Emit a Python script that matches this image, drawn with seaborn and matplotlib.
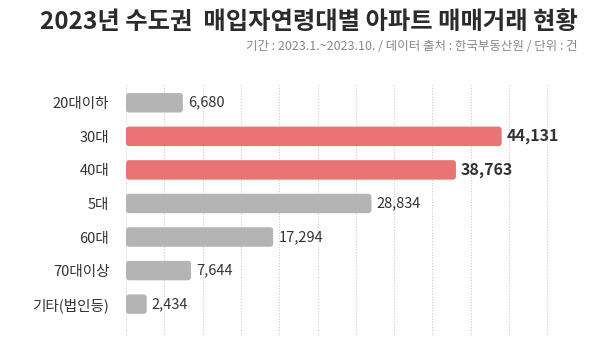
import pandas as pd
import seaborn as sns
import matplotlib.pyplot as plt
from matplotlib.ticker import MultipleLocator
from matplotlib.patches import FancyBboxPatch

# data
ages = ['20대이하', '30대', '40대', '5대', '60대', '70대이상', '기타(법인등)']
counts = [6680, 44131, 38763, 28834, 17294, 7644, 2434]
highlight = ['no', 'yes', 'yes', 'no', 'no', 'no', 'no']

df = pd.DataFrame({'age': ages, 'count': counts, 'hl': highlight})

sns.set_theme(style="white")
plt.rcParams['font.family'] = ['Noto Sans CJK KR', 'DejaVu Sans']

fig = plt.figure(figsize=(5.94, 3.58), dpi=100)
ax = fig.add_axes([126 / 594, 22 / 358, 434 / 594, 251 / 358])

palette = {'yes': '#E87474', 'no': '#B4B4B4'}
sns.barplot(data=df, x='count', y='age', hue='hl', palette=palette, saturation=1,
            dodge=False, width=0.58, legend=False, ax=ax, zorder=3)

step = 4500
ax.set_xlim(0, step * 11.33)
ax.set_ylim(6.95, -0.53)

# round the bar corners (geometry taken from seaborn's own bars)
x_per_px = step * 11.33 / 434
y_per_px = 7.48 / 251
for p in list(ax.patches):
    if p.get_width() <= 0:
        continue
    r = 3 * x_per_px
    rb = FancyBboxPatch((p.get_x(), p.get_y()), p.get_width(), p.get_height(),
                        boxstyle=f'round,pad=0,rounding_size={r}',
                        mutation_aspect=y_per_px / x_per_px,
                        facecolor=p.get_facecolor(), edgecolor='none', zorder=3)
    p.remove()
    ax.add_patch(rb)

# value labels
for i, (v, h) in enumerate(zip(counts, highlight)):
    ax.text(v + 600, i, f'{v:,}', va='center', ha='left',
            fontsize=11.5 if h == 'yes' else 10.5,
            fontweight='semibold' if h == 'yes' else 'medium', color='#333333')

ax.xaxis.set_major_locator(MultipleLocator(step))
ax.grid(axis='x', linestyle=(0, (1, 1.5)), color='#cccccc', linewidth=0.8, zorder=0)
ax.tick_params(axis='x', bottom=False, labelbottom=False)
ax.tick_params(axis='y', left=False, pad=6, labelsize=10.5, labelcolor='#333333')
ax.set_xlabel('')
ax.set_ylabel('')
for s in ax.spines.values():
    s.set_visible(False)

fig.text(578 / 594, 1 - 22 / 358, '2023년 수도권  매입자연령대별 아파트 매매거래 현황',
         ha='right', va='center', fontsize=17.5, fontweight='bold', color='#2b2b2b')
fig.text(578 / 594, 1 - 47 / 358, '기간 : 2023.1.~2023.10. / 데이터 출처 : 한국부동산원 / 단위 : 건',
         ha='right', va='center', fontsize=9, color='#888888')

fig.savefig('out.png', dpi=100, facecolor='white')
